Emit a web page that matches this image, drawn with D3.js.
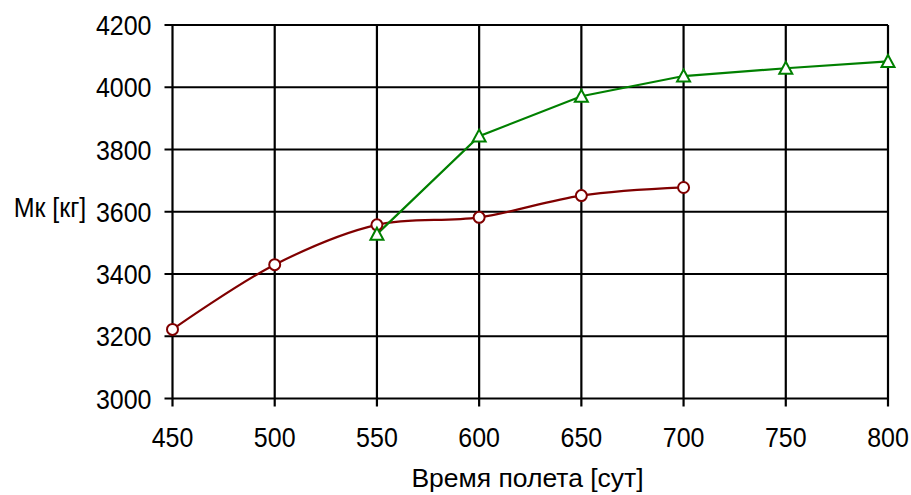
<!DOCTYPE html>
<html><head><meta charset="utf-8">
<script src="https://cdn.jsdelivr.net/npm/d3@7"></script>
<style>body{margin:0;background:#fff}svg{display:block}text{font-family:"Liberation Sans",Arial,sans-serif;fill:#000}</style>
</head><body>
<svg id="c" width="911" height="495"></svg>
<script>
const xTicks = [450,500,550,600,650,700,750,800];
const yTicks = [3000,3200,3400,3600,3800,4000,4200];
const redX = [450,500,550,600,650,700];
const redY = [3222,3430,3558,3582,3652,3678];
const greenX = [550,600,650,700,750,800];
const greenY = [3528,3843,3971,4036,4061,4083];
const xTitle = "Время полета [сут]";
const yTitle = "Мк [кг]";

const svg = d3.select("#c");
const x = d3.scaleLinear().domain([450,800]).range([172.5,888]);
const y = d3.scaleLinear().domain([3000,4200]).range([398.5,25]);

// grid
const g = svg.append("g");
g.selectAll("line.v").data(xTicks).join("line")
  .attr("x1",d=>x(d)).attr("x2",d=>x(d)).attr("y1",y(4200)).attr("y2",y(3000)+8)
  .attr("stroke","#000").attr("stroke-width",2.2);
g.selectAll("line.h").data(yTicks).join("line")
  .attr("x1",x(450)-8).attr("x2",x(800)).attr("y1",d=>y(d)).attr("y2",d=>y(d))
  .attr("stroke","#000").attr("stroke-width",2.2);

// tick labels
svg.append("g").selectAll("text").data(yTicks).join("text")
  .attr("transform",d=>`translate(${x(450)-21},${y(d)+10}) scale(1,1.1)`)
  .attr("text-anchor","end")
  .style("font-size","25px").text(d=>d);
svg.append("g").selectAll("text").data(xTicks).join("text")
  .attr("transform",d=>`translate(${x(d)},447) scale(1,1.1)`)
  .attr("text-anchor","middle")
  .style("font-size","25px").text(d=>d);

svg.append("text").attr("transform","translate(527.5,487)").attr("text-anchor","middle")
  .style("font-size","26.5px").text(xTitle);
svg.append("text").attr("transform","translate(50,217) scale(1,1.1)").attr("text-anchor","middle")
  .style("font-size","25px").text(yTitle);

const red = redX.map((d,i)=>[d,redY[i]]);
const green = greenX.map((d,i)=>[d,greenY[i]]);

svg.append("path").datum(red)
  .attr("d",d3.line().x(d=>x(d[0])).y(d=>y(d[1])).curve(d3.curveCatmullRom.alpha(0.5)))
  .attr("fill","none").attr("stroke","#800000").attr("stroke-width",2.2);
svg.append("path").datum(green)
  .attr("d",d3.line().x(d=>x(d[0])).y(d=>y(d[1])))
  .attr("fill","none").attr("stroke","#008000").attr("stroke-width",2.2);

svg.append("g").selectAll("circle").data(red).join("circle")
  .attr("cx",d=>x(d[0])).attr("cy",d=>y(d[1])).attr("r",5.5)
  .attr("fill","#fff").attr("stroke","#800000").attr("stroke-width",2);
svg.append("g").selectAll("path").data(green).join("path")
  .attr("transform",d=>`translate(${x(d[0])},${y(d[1])})`)
  .attr("d","M0,-6.5L6.5,5.5L-6.5,5.5Z")
  .attr("fill","#fff").attr("stroke","#008000").attr("stroke-width",2);
</script>
</body></html>
